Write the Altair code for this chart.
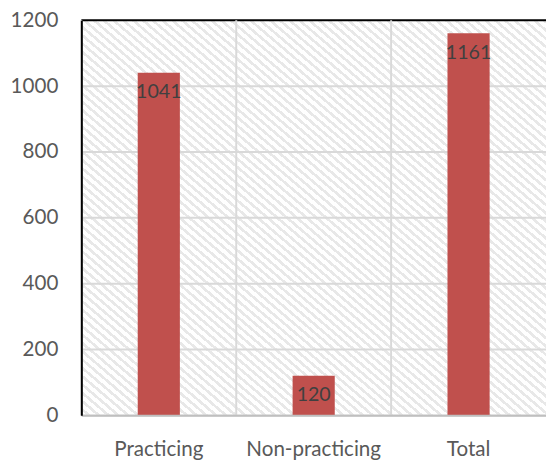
import altair as alt
import pandas as pd

# Member counts by status
categories = ["Practicing", "Non-practicing", "Total"]
counts = [1041, 120, 1161]
y_ticks = [0, 200, 400, 600, 800, 1000, 1200]

df = pd.DataFrame({"status": categories, "count": counts})
grid_df = pd.DataFrame({"tick": y_ticks})

# Light diagonal hatch for the plot background, built as a striped gradient
n_stripes = 95
stops = []
for i in range(n_stripes):
    a = i / n_stripes
    b = (i + 0.58) / n_stripes
    c = (i + 1) / n_stripes
    stops += [
        {"offset": a, "color": "#ffffff"},
        {"offset": b, "color": "#ffffff"},
        {"offset": b, "color": "#e8e8e8"},
        {"offset": c, "color": "#e8e8e8"},
    ]
hatch = alt.LinearGradient(gradient="linear", x1=0, y1=1, x2=1, y2=0, stops=stops)

font = "Lato"
grid_color = "#d9d9d9"

x_axis = alt.Axis(
    labelAngle=0,
    labelFontSize=21,
    labelColor="#595959",
    labelFont=font,
    labelPadding=24,
    ticks=False,
    grid=False,
    domainColor="#bfbfbf",
    domainWidth=2,
    zindex=1,
)
y_axis = alt.Axis(
    values=y_ticks,
    format="d",
    labelFontSize=21,
    labelColor="#595959",
    labelFont=font,
    labelPadding=24,
    ticks=False,
    grid=False,
    domainColor="#000000",
    domainWidth=2,
    zindex=1,
)
x_scale = alt.Scale(paddingInner=0, paddingOuter=0)
y_scale = alt.Scale(domain=[0, 1200], nice=False)

backdrop = (
    alt.Chart(pd.DataFrame({"k": [0]}))
    .mark_rect(color=hatch)
    .encode(
        x=alt.value(0),
        x2=alt.value("width"),
        y=alt.value(0),
        y2=alt.value("height"),
    )
)

# Horizontal gridlines at each y tick; the top one closes the frame in black
h_grid = (
    alt.Chart(grid_df)
    .mark_rule(strokeWidth=2)
    .encode(
        y=alt.Y("tick:Q", scale=y_scale, axis=y_axis, title=None),
        color=alt.condition(
            alt.datum.tick == 1200, alt.value("#000000"), alt.value(grid_color)
        ),
    )
)

# Vertical gridlines at the category boundaries
v_grid = (
    alt.Chart(df)
    .mark_rule(color=grid_color, strokeWidth=2)
    .encode(
        x=alt.X(
            "status:N", sort=categories, bandPosition=0,
            scale=x_scale, axis=x_axis, title=None,
        )
    )
)

base = alt.Chart(df).encode(
    x=alt.X("status:N", sort=categories, scale=x_scale, axis=x_axis, title=None),
    y=alt.Y("count:Q", scale=y_scale, axis=y_axis, title=None),
)

bars = base.mark_bar(color="#c0504d", size=43)

labels = base.mark_text(
    baseline="middle", dy=20, fontSize=20, font=font, color="#404040"
).encode(text="count:Q")

chart = (
    alt.layer(backdrop, h_grid, v_grid, bars, labels)
    .properties(
        width=474,
        height=403,
        autosize=alt.AutoSizeParams(type="none"),
        padding={"left": 83, "top": 16, "right": 0, "bottom": 50},
    )
    .configure_view(stroke=None)
    .configure(background="#ffffff")
)

chart.save("out.html", embed_options={"renderer": "svg", "actions": False})
